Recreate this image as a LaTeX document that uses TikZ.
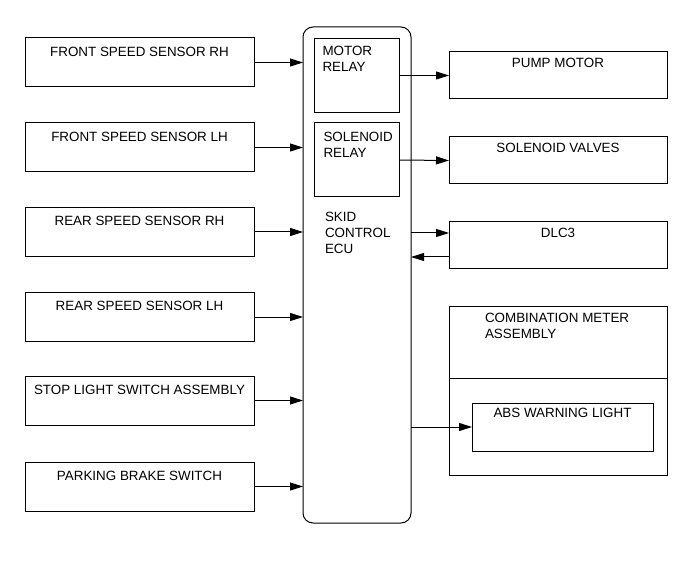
\documentclass[tikz,border=0pt]{standalone}
\usepackage{fontspec}
\setmainfont{Liberation Sans}
\usetikzlibrary{positioning}
\usetikzlibrary{arrows.meta}
\usetikzlibrary{calc}
\begin{document}
\begin{tikzpicture}[x=1pt,y=-1pt,line width=1pt,
    box/.style={draw, rectangle, inner sep=0pt, outer sep=0pt},
    sensor/.style={box, minimum width=229pt, minimum height=49pt},
    outbox/.style={box, minimum width=218pt, minimum height=47pt},
    relay/.style={box, minimum width=85pt, minimum height=74pt},
    txt/.style={inner sep=0pt, outer sep=0pt, align=left, font=\fontsize{13.4}{16}\selectfont},
    >={Triangle[length=13pt,width=8pt]}]
  \useasboundingbox (0,0) rectangle (691,564);

  % ECU and its relays
  \node[box, rounded corners=10pt, minimum width=108pt, minimum height=496pt] (ecu) at (357,275) {};
  \node[relay] (mr) at (356.5,75.5) {};
  \node[relay] (sr) at (356.5,160) {};
  \node[txt, below right=8pt and 8.5pt of mr.north west] (mrt) {MOTOR\\RELAY};
  \node[txt, below right=9pt and 9.5pt of sr.north west] (srt) {SOLENOID\\RELAY};
  \node[txt, below right=15pt and 11pt of sr.south west] (ecut) {SKID\\CONTROL\\ECU};

  % inputs on the left
  \foreach \i/\y/\name in {1/62.5/FRONT SPEED SENSOR RH, 2/147.5/FRONT SPEED SENSOR LH,
      3/232/REAR SPEED SENSOR RH, 4/317/REAR SPEED SENSOR LH,
      5/400.5/STOP LIGHT SWITCH ASSEMBLY, 6/486.5/PARKING BRAKE SWITCH}
    {
    \node[sensor] (s\i) at (139.5,\y) {};
    \node[txt, below=9pt of s\i.north] (l\i) {\name};
    \draw[->] (s\i.east) -- (s\i.east -| ecu.west);
    }

  % outputs on the right
  \node[outbox] (pump) at (558,75.5) {};
  \node[outbox] (valve) at (558,160.5) {};
  \node[outbox] (dlc) at (558,245.5) {};
  \node[txt, below=6.5pt of pump.north] (pumpt) {PUMP MOTOR};
  \node[txt, below=6.5pt of valve.north] (valvet) {SOLENOID VALVES};
  \node[txt, below=6.5pt of dlc.north] (dlct) {DLC3};

  \draw[->] (mr.east) -- (pump.west);
  \draw[->] (sr.east) -- (valve.west);
  \coordinate (d1) at ([yshift=12.5pt]dlc.west);
  \coordinate (d2) at ([yshift=-11.5pt]dlc.west);
  \draw[->] (d1 -| ecu.east) -- (d1);
  \draw[->] (d2) -- (d2 -| ecu.east);

  % combination meter
  \node[box, minimum width=218pt, minimum height=169pt] (meter) at (558,390.5) {};
  \coordinate (m1) at (449,378);
  \draw (m1) -- (m1 -| meter.east);
  \node[txt, below right=7pt and 36pt of meter.north west] (metert) {COMBINATION METER\\ASSEMBLY};
  \node[box, minimum width=181pt, minimum height=48pt] (abs) at (562.5,427) {};
  \node[txt, below=5.5pt of abs.north] (abst) {ABS WARNING LIGHT};
  \draw[->] (abs.west -| ecu.east) -- (abs.west);
\end{tikzpicture}
\end{document}
